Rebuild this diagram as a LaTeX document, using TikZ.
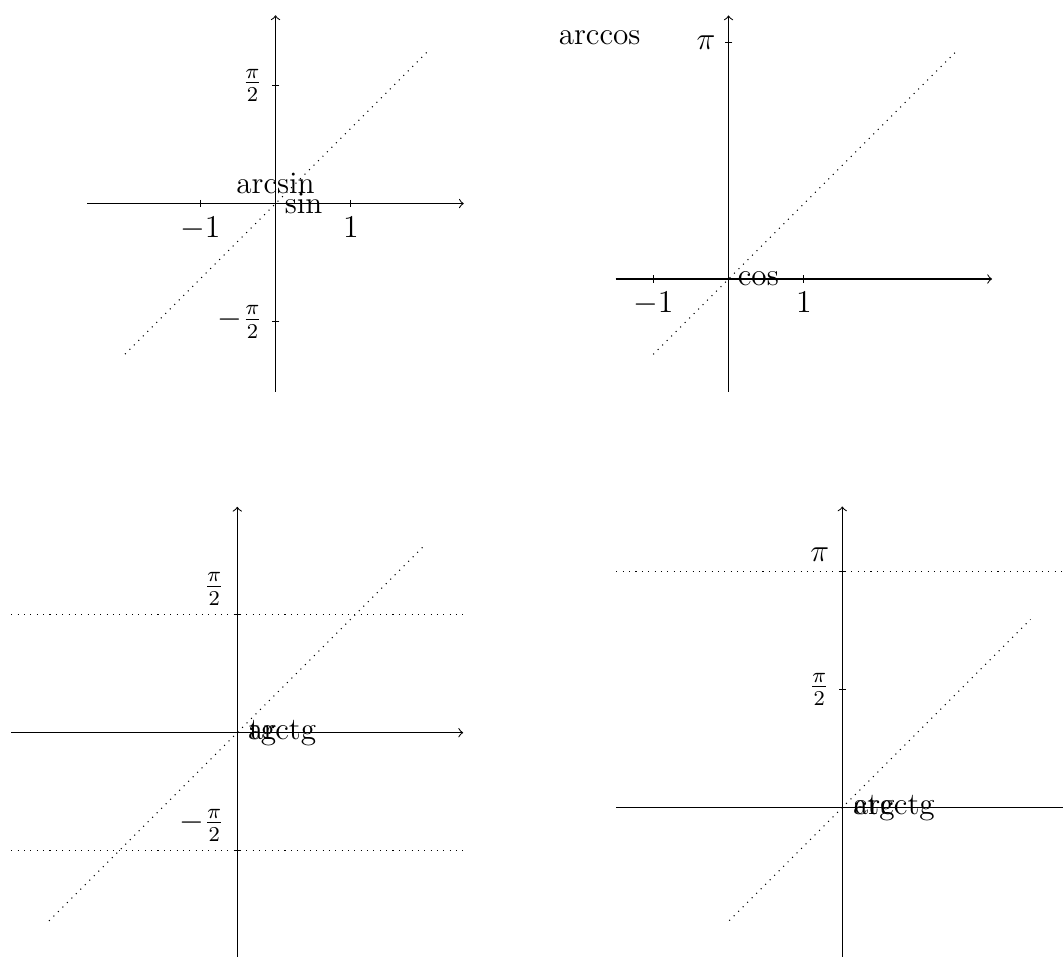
\documentclass[tikz,border=0pt]{standalone}
\tikzset{
  axisline/.style={->, line width=0.4pt},
  tickline/.style={line width=0.4pt},
  guide/.style={dotted, line width=0.4pt},
  lab/.style={font=\fontsize{11.8}{14}\selectfont},
}
\begin{document}
\begin{tikzpicture}
\useasboundingbox (0,0) rectangle (14.117,-12.696);

% ---------- arcsin / sin ----------
\begin{scope}[shift={(3.659,-2.703)}]
  \coordinate (aW) at (-2.5,0); \coordinate (aE) at (2.5,0);
  \coordinate (aS) at (0,-2.5); \coordinate (aN) at (0,2.5);
  \draw[axisline] (aW) -- (aE);
  \draw[axisline] (aS) -- (aN);
  \coordinate (aD1) at (-2,-2); \coordinate (aD2) at (2.03,2.03);
  \draw[guide] (aD1) -- (aD2);
  \draw[tickline] (-1,0.05) -- (-1,-0.05) node[lab,below] (aXm) {$-1$};
  \draw[tickline] (1,0.05) -- (1,-0.05) node[lab,below] (aXp) {$1$};
  \draw[tickline] (0.05,{pi/2}) -- (-0.05,{pi/2}) node[lab,left] (aYp) {$\frac{\pi}{2}$};
  \draw[tickline] (0.05,{-pi/2}) -- (-0.05,{-pi/2}) node[lab,left] (aYm) {$-\frac{\pi}{2}$};
  \node[lab,above] (arcsin) at (0,0) {arcsin};
  \node[lab,right] (sin) at (0,0) {sin};
\end{scope}

% ---------- arccos / cos ----------
\begin{scope}[shift={(9.675,-3.705)}]
  \coordinate (bW) at (-1.5,0); \coordinate (bE) at (3.5,0);
  \coordinate (bS) at (0,-1.5); \coordinate (bN) at (0,3.5);
  \draw[axisline] (bW) -- (bE);
  \draw[axisline] (bS) -- (bN);
  \coordinate (bD1) at (-1,-1); \coordinate (bD2) at (3.03,3.03);
  \draw[guide] (bD1) -- (bD2);
  \draw[tickline] (-1,0.05) -- (-1,-0.05) node[lab,below] (bXm) {$-1$};
  \draw[tickline] (1,0.05) -- (1,-0.05) node[lab,below] (bXp) {$1$};
  \draw[tickline] (0.05,pi) -- (-0.05,pi) node[lab,left] (bYp) {$\pi$};
  \node[lab,anchor=base east,inner sep=0pt] (arccos) at (-1.162,3.108) {arccos};
  \node[lab,right] (cos) at (0,0) {cos};
\end{scope}

% ---------- arctg / tg ----------
\begin{scope}[shift={(3.151,-9.730)}]
  \coordinate (cW) at (-3,0); \coordinate (cE) at (3,0);
  \coordinate (cS) at (0,-3); \coordinate (cN) at (0,3);
  \draw[axisline] (cW) -- (cE);
  \draw[axisline] (cS) -- (cN);
  \coordinate (cH1a) at (-3,{pi/2}); \coordinate (cH1b) at (3,{pi/2});
  \coordinate (cH2a) at (-3,{-pi/2}); \coordinate (cH2b) at (3,{-pi/2});
  \draw[guide] (cH1a) -- (cH1b);
  \draw[guide] (cH2a) -- (cH2b);
  \coordinate (cD1) at (-2.5,-2.5); \coordinate (cD2) at (2.5,2.5);
  \draw[guide] (cD1) -- (cD2);
  \draw[tickline] (0.05,{pi/2}) -- (-0.05,{pi/2}) node[lab,above left] (cYp) {$\frac{\pi}{2}$};
  \draw[tickline] (0.05,{-pi/2}) -- (-0.05,{-pi/2}) node[lab,above left] (cYm) {$-\frac{\pi}{2}$};
  \node[lab,right] (tg) at (0.03,0) {tg};
  \node[lab,right] (arctg) at (0.02,0) {arctg};
\end{scope}

% ---------- arcctg / ctg ----------
\begin{scope}[shift={(11.186,-10.726)}]
  \coordinate (dW) at (-3,0); \coordinate (dE) at (3,0);
  \coordinate (dS) at (0,-2); \coordinate (dN) at (0,4);
  \draw[axisline] (dW) -- (dE);
  \draw[axisline] (dS) -- (dN);
  \coordinate (dH1a) at (-3,pi); \coordinate (dH1b) at (3,pi);
  \draw[guide] (dH1a) -- (dH1b);
  \coordinate (dD1) at (-1.5,-1.5); \coordinate (dD2) at (2.5,2.5);
  \draw[guide] (dD1) -- (dD2);
  \draw[tickline] (0.05,{pi/2}) -- (-0.05,{pi/2}) node[lab,left] (dYh) {$\frac{\pi}{2}$};
  \draw[tickline] (0.05,pi) -- (-0.05,pi) node[lab,above left] (dYp) {$\pi$};
  \node[lab,right] (ctg) at (0.03,0) {ctg};
  \node[lab,right] (arcctg) at (0.02,0) {arcctg};
\end{scope}
\end{tikzpicture}
\end{document}
